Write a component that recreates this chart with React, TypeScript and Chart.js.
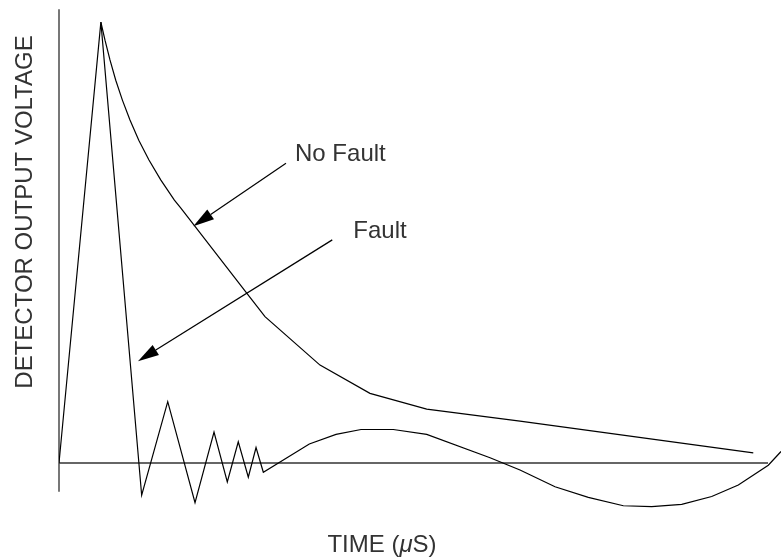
import React, { useEffect, useRef } from "react";
import { Chart, registerables } from "chart.js";

Chart.register(...registerables);

// Time axis (arbitrary µs units) and detector output voltage (normalised)
const faultTime = [0, 0.58, 1.145, 1.506, 1.884, 2.147, 2.331, 2.483, 2.622, 2.729, 2.83, 3.467, 3.837, 4.183, 4.63, 5.093, 5.97, 6.385, 6.87, 7.331, 7.816, 8.209, 8.625, 9.04, 9.409, 9.824, 10.0];
const faultVoltage = [0, 1.0, -0.073, 0.139, -0.09, 0.07, -0.043, 0.048, -0.032, 0.035, -0.021, 0.043, 0.065, 0.076, 0.076, 0.065, 0.012, -0.016, -0.054, -0.078, -0.097, -0.099, -0.094, -0.076, -0.05, -0.005, 0.026];

const noFaultTime = [0.58, 0.637, 0.706, 0.786, 0.878, 0.983, 1.105, 1.246, 1.409, 1.598, 1.688, 2.6, 2.853, 3.615, 4.307, 5.093, 6.385, 9.616];
const noFaultVoltage = [1.0, 0.959, 0.914, 0.868, 0.823, 0.778, 0.732, 0.687, 0.642, 0.596, 0.578, 0.385, 0.332, 0.222, 0.158, 0.122, 0.095, 0.023];

// Annotation labels with arrows (data coordinates)
const labelTexts = ["No Fault", "Fault"];
const labelX = [3.269, 4.076];
const labelY = [0.685, 0.5095];
const arrowFromX = [3.144, 3.785];
const arrowFromY = [0.68, 0.506];
const arrowToX = [1.86, 1.094];
const arrowToY = [0.537, 0.231];

// Axes extents (data coordinates)
const xMin = 0;
const xMax = 10;
const yMin = -0.22;
const yMax = 1.05;
const axisXEnd = 9.82;
const axisYTop = 1.029;
const axisYBottom = -0.065;

const xTitle = ["TIME (", "\u03bc", "S)"];
const yTitle = "DETECTOR OUTPUT VOLTAGE";

const toPoints = (xs: number[], ys: number[]) => xs.map((x, i) => ({ x, y: ys[i] }));

const FONT = '"Liberation Sans", Arial, Helvetica, sans-serif';
const TEXT_COLOR = "#333";

const overlayPlugin = {
  id: "patentOverlay",
  beforeDatasetsDraw(chart: any) {
    const ctx = chart.ctx;
    const xs = chart.scales.x;
    const ys = chart.scales.y;
    ctx.save();
    // vertical axis
    ctx.strokeStyle = "#555";
    ctx.lineWidth = 1.6;
    ctx.beginPath();
    ctx.moveTo(xs.getPixelForValue(0), ys.getPixelForValue(axisYTop));
    ctx.lineTo(xs.getPixelForValue(0), ys.getPixelForValue(axisYBottom));
    ctx.stroke();
    // horizontal axis
    ctx.strokeStyle = "#333";
    ctx.lineWidth = 1.5;
    ctx.beginPath();
    ctx.moveTo(xs.getPixelForValue(0), ys.getPixelForValue(0));
    ctx.lineTo(xs.getPixelForValue(axisXEnd), ys.getPixelForValue(0));
    ctx.stroke();
    ctx.restore();
  },
  afterDatasetsDraw(chart: any) {
    const ctx = chart.ctx;
    const xs = chart.scales.x;
    const ys = chart.scales.y;
    ctx.save();
    // arrows
    for (let i = 0; i < labelTexts.length; i++) {
      const x1 = xs.getPixelForValue(arrowFromX[i]);
      const y1 = ys.getPixelForValue(arrowFromY[i]);
      const x2 = xs.getPixelForValue(arrowToX[i]);
      const y2 = ys.getPixelForValue(arrowToY[i]);
      const ang = Math.atan2(y2 - y1, x2 - x1);
      const headLen = 21;
      const headHalf = 6;
      const bx = x2 - headLen * Math.cos(ang);
      const by = y2 - headLen * Math.sin(ang);
      ctx.strokeStyle = "#000";
      ctx.lineWidth = 1.2;
      ctx.beginPath();
      ctx.moveTo(x1, y1);
      ctx.lineTo(bx, by);
      ctx.stroke();
      ctx.fillStyle = "#000";
      ctx.beginPath();
      ctx.moveTo(x2, y2);
      ctx.lineTo(bx + headHalf * Math.sin(ang), by - headHalf * Math.cos(ang));
      ctx.lineTo(bx - headHalf * Math.sin(ang), by + headHalf * Math.cos(ang));
      ctx.closePath();
      ctx.fill();
      // label
      ctx.fillStyle = TEXT_COLOR;
      ctx.font = `24px ${FONT}`;
      ctx.textAlign = "left";
      ctx.textBaseline = "alphabetic";
      ctx.fillText(labelTexts[i], xs.getPixelForValue(labelX[i]), ys.getPixelForValue(labelY[i]));
    }
    // x title
    ctx.fillStyle = TEXT_COLOR;
    ctx.textBaseline = "alphabetic";
    ctx.textAlign = "left";
    const normal = `24px ${FONT}`;
    const italic = `italic 24px ${FONT}`;
    ctx.font = normal;
    const w0 = ctx.measureText(xTitle[0]).width;
    const w2 = ctx.measureText(xTitle[2]).width;
    ctx.font = italic;
    const w1 = ctx.measureText(xTitle[1]).width;
    const total = w0 + w1 + w2;
    let tx = 382 - total / 2;
    const ty = 552;
    ctx.font = normal;
    ctx.fillText(xTitle[0], tx, ty);
    tx += w0;
    ctx.font = italic;
    ctx.fillText(xTitle[1], tx, ty);
    tx += w1;
    ctx.font = normal;
    ctx.fillText(xTitle[2], tx, ty);
    // y title
    ctx.save();
    ctx.translate(32, 212);
    ctx.rotate(-Math.PI / 2);
    ctx.font = normal;
    ctx.textAlign = "center";
    ctx.fillText(yTitle, 0, 0);
    ctx.restore();
    ctx.restore();
  },
};

export default function App() {
  const canvasRef = useRef<HTMLCanvasElement | null>(null);

  useEffect(() => {
    if (!canvasRef.current) return;
    const chart = new Chart(canvasRef.current, {
      type: "line",
      data: {
        datasets: [
          {
            label: "No Fault",
            data: toPoints(noFaultTime, noFaultVoltage),
            borderColor: "#000",
            borderWidth: 1.2,
            pointRadius: 0,
            tension: 0,
            fill: false,
          },
          {
            label: "Fault",
            data: toPoints(faultTime, faultVoltage),
            borderColor: "#000",
            borderWidth: 1.2,
            pointRadius: 0,
            tension: 0,
            fill: false,
          },
        ],
      },
      options: {
        responsive: false,
        animation: false,
        events: [],
        layout: { padding: { left: 59, right: 0, top: 0, bottom: 0 } },
        plugins: { legend: { display: false }, tooltip: { enabled: false }, title: { display: false } },
        scales: {
          x: { type: "linear", min: xMin, max: xMax, display: false },
          y: { type: "linear", min: yMin, max: yMax, display: false },
        },
      },
      plugins: [overlayPlugin],
    });
    return () => chart.destroy();
  }, []);

  return (
    <div style={{ position: "absolute", left: 0, top: 0, width: 781, height: 560, background: "#fff" }}>
      <canvas ref={canvasRef} width={781} height={560} style={{ display: "block" }} />
    </div>
  );
}
